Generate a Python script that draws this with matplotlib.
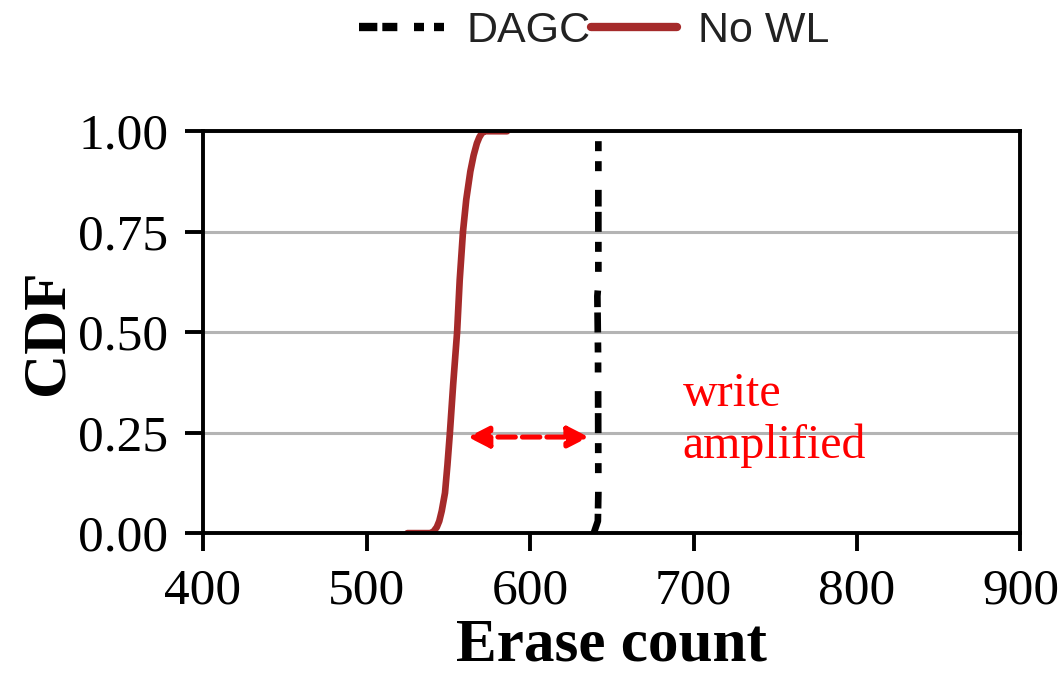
import matplotlib
matplotlib.use('Agg')
import matplotlib.pyplot as plt

# CDF of erase counts
erase_nowl = [525, 539, 541, 543, 544.5, 546, 548, 549.5, 551, 553, 555.4, 557, 559, 561, 563.5, 565.5, 567.5, 569, 570.5, 572, 586]
cdf_nowl = [0, 0, 0.004, 0.015, 0.03, 0.055, 0.1, 0.17, 0.25, 0.37, 0.5, 0.63, 0.75, 0.83, 0.9, 0.94, 0.97, 0.985, 0.995, 1.0, 1.0]

erase_dagc = [639.0, 641.5, 641.8, 641.6, 641.2, 641.8, 641.8]
cdf_dagc = [0.0, 0.03, 0.1, 0.45, 0.59, 0.62, 1.0]

labels = ['DAGC', 'No WL']
xticks = [400, 500, 600, 700, 800, 900]
yticks = [0.0, 0.25, 0.5, 0.75, 1.0]

serif = ['Liberation Serif', 'DejaVu Serif']

fig = plt.figure(figsize=(10.63, 6.8), dpi=100)
ax = fig.add_axes([0.191, 0.216, 0.769, 0.591])

ax.yaxis.grid(True, color='#b4b4b4', linewidth=2.2)
ax.set_axisbelow(True)

l1, = ax.plot(erase_dagc, cdf_dagc, color='black', linewidth=4.8,
              dashes=(3, 0.8, 2.5, 2.8, 1.5, 1.5, 1.5, 1.5), label=labels[0])
l2, = ax.plot(erase_nowl, cdf_nowl, color='#a52a2a', linewidth=4.8,
              solid_capstyle='round', solid_joinstyle='round', label=labels[1])

ax.annotate('', xy=(636, 0.239), xytext=(562, 0.239),
            arrowprops=dict(arrowstyle='<|-|>,head_length=0.45,head_width=0.23',
                            color='red', lw=3.6,
                            linestyle=(0, (3.5, 1.4)), mutation_scale=28,
                            shrinkA=0, shrinkB=0))
ax.text(693.5, 0.40, 'write\namplified', color='red', fontsize=34.5,
        family=serif, va='top', ha='left', linespacing=1.2)

ax.set_xlim(400, 900)
ax.set_ylim(0, 1)
ax.set_xticks(xticks)
ax.set_yticks(yticks)
ax.set_yticklabels(['%.2f' % v for v in yticks])
for lab in ax.get_xticklabels() + ax.get_yticklabels():
    lab.set_family(serif)
    lab.set_fontsize(37)
ax.tick_params(direction='out', length=13, width=2.8, pad=12)

for s in ax.spines.values():
    s.set_linewidth(2.8)
    s.set_color('black')

ax.set_xlabel('Erase count', family=serif, fontsize=44, fontweight='bold', labelpad=2)
ax.set_ylabel('CDF', family=serif, fontsize=44, fontweight='bold', labelpad=2)

leg = fig.legend(handles=[l1, l2], loc='center', bbox_to_anchor=(0.559, 0.955),
                 ncol=2, frameon=False, handlelength=2.0, handletextpad=0.5,
                 columnspacing=0.0,
                 prop={'family': ['Liberation Sans', 'DejaVu Sans'], 'size': 31})
for t in leg.get_texts():
    t.set_color('#222222')
hl = leg.get_lines()
for h in hl:
    h.set_linewidth(6)
hl[0].set_dashes((2.2, 0.6, 1.8, 2.0, 1.2, 1.2, 1.2, 1.2))

fig.savefig('out.png', dpi=100)
